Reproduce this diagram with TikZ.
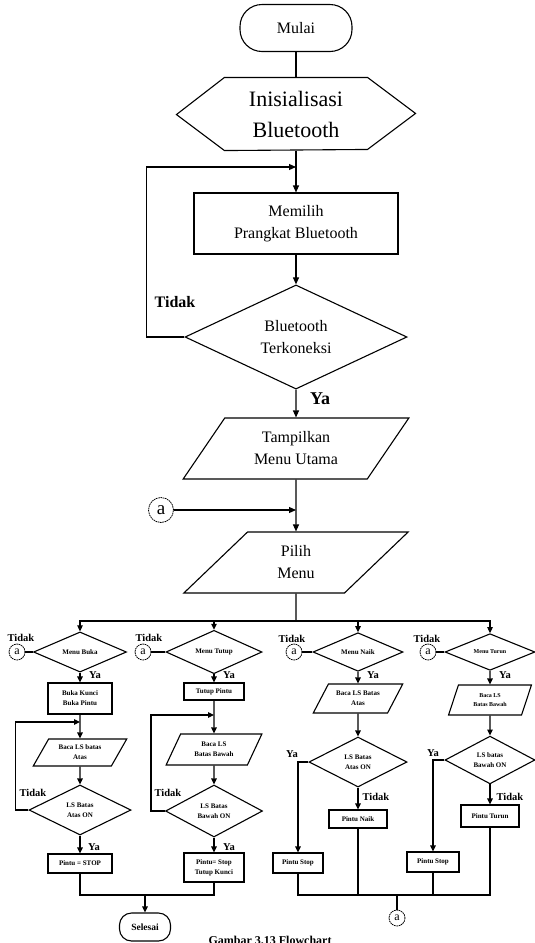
\documentclass[tikz,border=0pt]{standalone}
\usepackage{fontspec}
\setmainfont{Liberation Serif}
\usetikzlibrary{shapes.geometric,arrows.meta,calc}
\begin{document}
\begin{tikzpicture}[x=1pt,y=-1pt,line width=1.1pt,
  >={Triangle[length=7pt,width=6pt]},
  term/.style={draw,rectangle,align=center,inner sep=0pt},
  box/.style={draw,rectangle,align=center,inner sep=0pt},
  dec/.style={draw,diamond,align=center,inner sep=0pt},
  io/.style={draw,trapezium,trapezium stretches=true,align=center,inner sep=0pt},
  conn/.style={draw,circle,line width=0.8pt,dash pattern=on 1.6pt off 0.7pt,inner sep=0pt},
  big/.style={font=\fontsize{16}{22}\selectfont},
  sm/.style={font=\fontsize{7}{10}\selectfont\bfseries},
  lbl/.style={font=\fontsize{10.5}{12}\selectfont\bfseries,inner sep=0pt},
  smarrow/.style={->,>={Triangle[length=6pt,width=5.5pt]}}]
\useasboundingbox (0,0) rectangle (535,943);

% ---------- main trunk ----------
\node[term,minimum width=112pt,minimum height=47pt,rounded corners=22pt,big] (mulai) at (296,28) {Mulai};
\node[align=center,inner sep=0pt,minimum width=142pt,minimum height=72pt,font=\fontsize{22}{31}\selectfont] (ini) at (296,114) {Inisialisasi\\Bluetooth};
\draw (ini.north west) -- (ini.north east) -- ++(48,36) -- ++(-48,36) -- (ini.south west) -- ++(-48,-36) -- cycle;
\node[box,minimum width=204pt,minimum height=61pt,big] (pilihbt) at (296,223.5) {Memilih\\Prangkat Bluetooth};
\node[dec,minimum width=222pt,minimum height=100pt,big] (konek) at (296,337) {Bluetooth\\Terkoneksi};
\node[io,trapezium left angle=53.6,trapezium right angle=126.4,minimum width=226pt,minimum height=61pt,big] (tampil) at (296,448.5) {Tampilkan\\Menu Utama};
\node[io,trapezium left angle=53.6,trapezium right angle=126.4,minimum width=226pt,minimum height=61pt,big] (pilih) at (296,562.5) {Pilih\\Menu};
\node[conn,minimum size=25pt,font=\fontsize{19}{19}\selectfont] (ca) at (161,510) {a};

\node[font=\fontsize{16}{18}\selectfont\bfseries,inner sep=0pt] (tidak0) at (175,302) {Tidak};
\node[font=\fontsize{18}{20}\selectfont\bfseries,inner sep=0pt] (ya0) at (320,399) {Ya};

\coordinate (j1) at (296,167);
\coordinate (j2) at (296,510);
\coordinate (bus) at (296,621);
\draw (mulai.south) -- (ini.north);
\draw[->] (ini.south) -- (pilihbt.north);
\draw[->] (konek.west) -- ++(-38,0) |- (j1);
\draw[->] (pilihbt.south) -- (konek.north);
\draw[->] (konek.south) -- (tampil.north);
\draw[->] (tampil.south) -- (pilih.north);
\draw[->] (ca) -- (j2);
\draw (pilih.south) -- (bus);

% ---------- menu decisions ----------
\node[dec,minimum width=93pt,minimum height=30pt,sm] (mbuka) at (80,652) {Menu Buka};
\node[dec,minimum width=96pt,minimum height=30pt,sm] (mtutup) at (214,652) {Menu Tutup};
\node[dec,minimum width=90pt,minimum height=30pt,sm] (mnaik) at (358,652) {Menu Naik};
\node[dec,minimum width=90pt,minimum height=30pt,font=\fontsize{6}{8}\selectfont\bfseries] (mturun) at (490,652) {Menu Turun};

\draw[smarrow] (bus) -| (mbuka.north);
\draw[smarrow] (bus) -| (mtutup.north);
\draw[smarrow] (bus) -| (mnaik.north);
\draw[smarrow] (bus) -| (mturun.north);

\node[conn,minimum size=16pt,font=\fontsize{12}{12}\selectfont] (c1) at (17,652) {a};
\node[conn,minimum size=16pt,font=\fontsize{12}{12}\selectfont] (c2) at (143,652) {a};
\node[conn,minimum size=16pt,font=\fontsize{12}{12}\selectfont] (c3) at (294,652) {a};
\node[conn,minimum size=16pt,font=\fontsize{12}{12}\selectfont] (c4) at (428,652) {a};
\draw (c1) -- (mbuka.west);
\draw (c2) -- (mtutup.west);
\draw (c3) -- (mnaik.west);
\draw (c4) -- (mturun.west);

\node[lbl] (t1) at (21,638) {Tidak};
\node[lbl] (t2) at (149,638) {Tidak};
\node[lbl] (t3) at (292,639) {Tidak};
\node[lbl] (t4) at (427,639) {Tidak};
\node[lbl] (y1) at (95,675) {Ya};
\node[lbl] (y2) at (229,675) {Ya};
\node[lbl] (y3) at (373,675) {Ya};
\node[lbl] (y4) at (505,675) {Ya};

% ---------- branch 1 ----------
\node[box,minimum width=64pt,minimum height=31pt,sm] (bk) at (80,698.5) {Buka Kunci\\Buka Pintu};
\node[io,trapezium left angle=54.9,trapezium right angle=125.1,minimum width=94pt,minimum height=27pt,sm] (baca1) at (80,752.5) {Baca LS batas\\Atas};
\node[dec,minimum width=102pt,minimum height=50pt,sm] (ls1) at (80,810) {LS Batas\\Atas ON};
\node[box,minimum width=64pt,minimum height=19pt,sm] (ps1) at (80,863.5) {Pintu = STOP};
\coordinate (j3) at (80,722);
\draw[smarrow] (mbuka.south) -- (bk.north);
\draw[smarrow] (bk.south) -- (baca1.north);
\draw[smarrow] (baca1.south) -- (ls1.north);
\draw[smarrow] (ls1.west) -- ++(-13,0) |- (j3);
\draw[smarrow] (ls1.south) -- (ps1.north);
\node[lbl] (t5) at (33,793) {Tidak};
\node[lbl] (y5) at (94,847) {Ya};

% ---------- branch 2 ----------
\node[box,minimum width=60pt,minimum height=17pt,sm] (tp) at (214,691.5) {Tutup Pintu};
\node[io,trapezium left angle=60,trapezium right angle=120,minimum width=96pt,minimum height=31pt,sm] (baca2) at (214,749.5) {Baca LS\\Batas Bawah};
\node[dec,minimum width=97pt,minimum height=52pt,sm] (ls2) at (214,811) {LS Batas\\Bawah ON};
\node[box,minimum width=60pt,minimum height=29pt,sm] (ps2) at (214,867.5) {Pintu= Stop\\Tutup Kunci};
\coordinate (j4) at (214,715);
\draw[smarrow] (mtutup.south) -- (tp.north);
\draw[smarrow] (tp.south) -- (baca2.north);
\draw[smarrow] (baca2.south) -- (ls2.north);
\draw[smarrow] (ls2.west) -- ++(-14,0) |- (j4);
\draw[smarrow] (ls2.south) -- (ps2.north);
\node[lbl] (t6) at (168,793) {Tidak};
\node[lbl] (y6) at (229,847) {Ya};

% ---------- end of branches 1-2 ----------
\node[term,minimum width=51pt,minimum height=28pt,rounded corners=12pt,font=\fontsize{9.5}{11}\selectfont\bfseries] (selesai) at (145,927) {Selesai};
\coordinate (j5) at (145,895);
\draw (ps1.south) |- (j5);
\draw (ps2.south) |- (j5);
\draw[smarrow] (j5) -- (selesai.north);

% ---------- branch 3 ----------
\node[io,trapezium left angle=52.8,trapezium right angle=127.2,minimum width=90pt,minimum height=29pt,sm] (baca3) at (358,698.5) {Baca LS Batas\\Atas};
\node[dec,minimum width=98pt,minimum height=50pt,sm] (ls3) at (358,762) {LS Batas\\Atas ON};
\node[box,minimum width=50pt,minimum height=20pt,sm] (pst3) at (298,863) {Pintu Stop};
\node[box,minimum width=58pt,minimum height=18pt,sm] (pn) at (358,819) {Pintu Naik};
\draw[smarrow] (mnaik.south) -- (baca3.north);
\draw[smarrow] (baca3.south) -- (ls3.north);
\draw[smarrow] (ls3.west) -| (pst3.north);
\draw[smarrow] (ls3.south) -- (pn.north);
\node[lbl] (y7) at (292,754) {Ya};
\node[lbl] (t7) at (376,797) {Tidak};

% ---------- branch 4 ----------
\node[io,trapezium left angle=68,trapezium right angle=112,minimum width=83pt,minimum height=30pt,font=\fontsize{6}{9}\selectfont\bfseries] (baca4) at (490,700) {Baca LS\\Batas Bawah};
\node[dec,minimum width=90pt,minimum height=46pt,sm] (ls4) at (490,760) {LS batas\\Bawah ON};
\node[box,minimum width=52pt,minimum height=20pt,sm] (pst4) at (433,862) {Pintu Stop};
\node[box,minimum width=58pt,minimum height=22pt,sm] (pt) at (490,816) {Pintu Turun};
\draw[smarrow] (mturun.south) -- (baca4.north);
\draw[smarrow] (baca4.south) -- (ls4.north);
\draw[smarrow] (ls4.west) -| (pst4.north);
\draw[smarrow] (ls4.south) -- (pt.north);
\node[lbl] (y8) at (433,753) {Ya};
\node[lbl] (t8) at (510,797) {Tidak};

% ---------- end of branches 3-4 ----------
\coordinate (j6) at (397,895);
\node[conn,minimum size=16pt,font=\fontsize{12}{12}\selectfont] (cb) at (397,918) {a};
\draw (pst3.south) |- (j6);
\draw (pt.south) |- (j6);
\draw (pn.south) -- (pn.south |- j6);
\draw (pst4.south) -- (pst4.south |- j6);
\draw (j6) -- (cb.north);

% ---------- caption (cut by the page edge) ----------
\node[font=\fontsize{12}{14}\selectfont\bfseries,anchor=north,inner sep=0pt] (cap) at (270,936) {Gambar 3.13 Flowchart};
\end{tikzpicture}
\end{document}
